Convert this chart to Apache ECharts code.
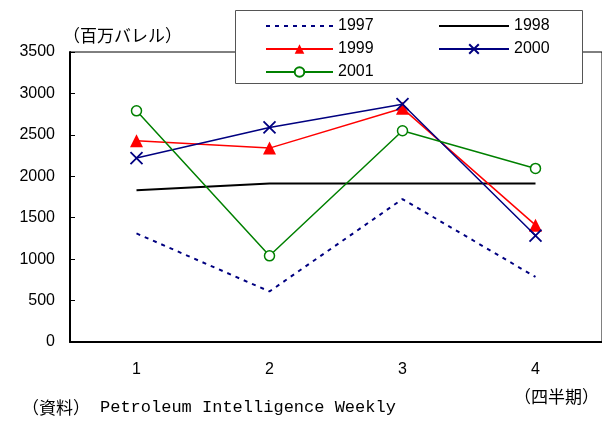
<!DOCTYPE html>
<html><head><meta charset="utf-8">
<script src="https://cdn.jsdelivr.net/npm/echarts@6/dist/echarts.min.js"></script>
<style>html,body{margin:0;padding:0;background:#fff}#c{width:602px;height:421px}</style>
</head><body><div id="c"></div>
<script>
const categories = ['1', '2', '3', '4'];
const s1997 = [1310, 610, 1725, 785];
const s1998 = [1830, 1912, 1912, 1912];
const s1999 = [2430, 2340, 2820, 1410];
const s2000 = [2220, 2590, 2870, 1285];
const s2001 = [2790, 1040, 2550, 2095];
const yTicks = { min: 0, max: 3500, interval: 500 };

const chart = echarts.init(document.getElementById('c'), null, { renderer: 'canvas' });
const font = '"Liberation Sans", Arial, sans-serif';
const cjk = '"Noto Sans CJK JP", sans-serif';
const xPath = 'path://M0,0L10,10M10,0L0,10';
const hidden = { opacity: 0 };
chart.setOption({
  animation: false,
  backgroundColor: '#fff',
  grid: { left: 70, top: 52, bottom: 79, right: -6, show: true, borderColor: '#000', borderWidth: 1, backgroundColor: 'transparent' },
  xAxis: {
    type: 'category', data: categories, boundaryGap: true,
    axisLine: { lineStyle: { color: '#000', width: 2 } },
    axisTick: { inside: true, length: 5, lineStyle: { color: '#000' } },
    axisLabel: { color: '#000', fontSize: 16, fontFamily: font, margin: 20 },
    splitLine: { show: false }
  },
  yAxis: {
    type: 'value', min: yTicks.min, max: yTicks.max, interval: yTicks.interval,
    axisLine: { show: true, lineStyle: { color: '#000', width: 2 } },
    axisTick: { show: true, inside: true, length: 5, lineStyle: { color: '#000' } },
    axisLabel: { color: '#000', fontSize: 16, fontFamily: font, margin: 15, formatter: v => String(v) },
    splitLine: { show: false }
  },
  legend: [
    { left: 265, top: 18, orient: 'vertical', itemWidth: 67, itemHeight: 12, itemGap: 7, padding: 0, z: 10,
      data: [{ name: '1997', itemStyle: hidden }, '1999', '2001'], textStyle: { fontSize: 16, fontFamily: font, color: '#000' } },
    { left: 438, top: 18, orient: 'vertical', itemWidth: 70, itemHeight: 12, itemGap: 7, padding: 0, z: 10,
      data: [{ name: '1998', itemStyle: hidden }, '2000'], textStyle: { fontSize: 16, fontFamily: font, color: '#000' } }
  ],
  graphic: [
    { type: 'rect', z: 3, shape: { x: 235.5, y: 10.5, width: 347, height: 73 }, style: { fill: '#fff', stroke: '#555', lineWidth: 1 } },
    { type: 'text', left: 63, top: 27, style: { text: '（百万バレル）', font: '17px ' + cjk, fill: '#000' } },
    { type: 'text', left: 514, top: 388, style: { text: '（四半期）', font: '17px ' + cjk, fill: '#000' } },
    { type: 'text', left: 22, top: 399, style: { text: '（資料）', font: '17px ' + cjk, fill: '#000' } },
    { type: 'text', left: 100, top: 399, style: { text: 'Petroleum Intelligence Weekly', font: '17px "Liberation Mono", monospace', fill: '#000' } }
  ],
  series: [
    { name: '1997', type: 'line', data: s1997, symbol: 'none', color: '#000080',
      lineStyle: { color: '#000080', width: 2, type: [4, 5] } },
    { name: '1998', type: 'line', data: s1998, symbol: 'none', color: '#000',
      lineStyle: { color: '#000', width: 2 } },
    { name: '1999', type: 'line', data: s1999, symbol: 'triangle', symbolSize: 13, color: '#ff0000',
      itemStyle: { color: '#ff0000' }, lineStyle: { color: '#ff0000', width: 1.5 } },
    { name: '2000', type: 'line', data: s2000, symbol: xPath, symbolSize: 12, color: '#000080',
      itemStyle: { color: 'none', borderColor: '#000080', borderWidth: 1.8 }, lineStyle: { color: '#000080', width: 1.5 } },
    { name: '2001', type: 'line', data: s2001, symbol: 'circle', symbolSize: 10, color: '#008000',
      itemStyle: { color: '#fff', borderColor: '#008000', borderWidth: 1.5 }, lineStyle: { color: '#008000', width: 1.5 } }
  ]
});
</script></body></html>
